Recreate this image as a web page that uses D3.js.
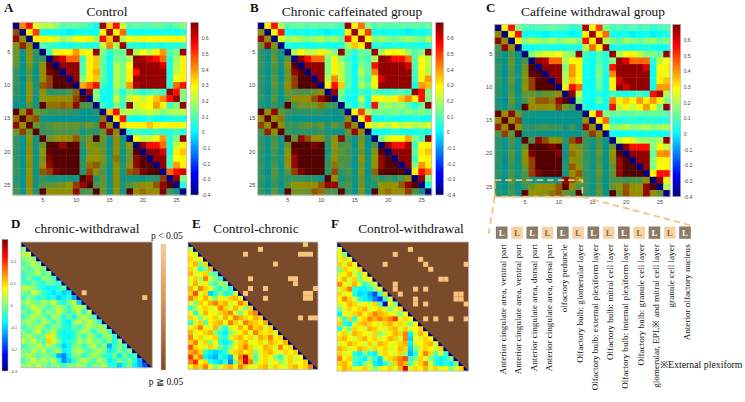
<!DOCTYPE html>
<html>
<head>
<meta charset="utf-8">
<script src="https://cdn.jsdelivr.net/npm/d3@7"></script>
<style>
    body { margin: 0; background: #fff; }
    svg { display: block; }
    text { font-family: "Liberation Serif", "Times New Roman", serif; fill: #111; }
    .tick text { font-family: "Liberation Sans", Arial, sans-serif; fill: #444; }
</style>
</head>
<body>
<svg id="fig" width="745" height="402"></svg>
<script>
/**
 * Data. Regions 1-13 left hemisphere, 14-26 right hemisphere.
 */
const regions = d3.range(1, 27);
const axisTicks = [5, 10, 15, 20, 25];
const corrTicks = [-0.4, -0.3, -0.2, -0.1, 0, 0.1, 0.2, 0.3, 0.4, 0.5, 0.6];
const diffTicks = [-0.3, -0.2, -0.1, 0, 0.1, 0.2];

const panelTitles = ['Control', 'Chronic caffeinated group', 'Caffeine withdrawal group'];
const diffTitles = ['chronic-withdrawal', 'Control-chronic', 'Control-withdrawal'];

// Upper triangles (row i holds columns i+1..26)
const controlUpper = [
    [0.42,0.55,0.25,0.22,0.22,0.18,0.1,0.12,0.12,0.1,0.08,0.02,0.67,0.35,0.55,0.22,0.1,0.12,0.1,0.1,0.12,0.12,0.08,0.12,0.15],
    [0.3,0.5,0.03,0.02,0.03,0.02,0.0,0.02,0.03,0.02,0.03,0.3,0.67,0.3,0.45,0.03,0.02,0.02,0.03,0.02,0.03,0.03,0.02,0.05],
    [0.3,0.3,0.28,0.25,0.18,0.2,0.28,0.28,0.3,0.18,0.55,0.35,0.67,0.22,0.28,0.25,0.3,0.28,0.3,0.28,0.3,0.3,0.28],
    [0.1,0.08,0.05,0.03,0.03,0.05,0.05,0.03,0.05,0.22,0.42,0.2,0.67,0.05,0.05,0.03,0.05,0.05,0.03,0.05,0.05,0.08],
    [0.1,0.3,0.3,0.3,0.4,0.3,0.28,0.67,0.15,0.05,0.12,0.12,0.67,0.2,0.28,0.22,0.3,0.4,0.1,0.15,0.67],
    [0.68,0.6,0.45,0.45,0.08,0.3,0.35,0.12,0.02,0.15,0.12,0.2,0.68,0.66,0.6,0.55,0.45,0.05,0.18,0.3],
    [0.68,0.68,0.68,0.1,0.3,0.35,0.12,0.02,0.2,0.15,0.28,0.68,0.68,0.68,0.67,0.6,0.05,0.2,0.3],
    [0.68,0.68,0.1,0.3,0.38,0.12,0.02,0.2,0.15,0.3,0.55,0.68,0.68,0.68,0.67,0.05,0.22,0.3],
    [0.68,0.15,0.3,0.35,0.12,0.02,0.2,0.15,0.3,0.68,0.68,0.68,0.68,0.67,0.05,0.28,0.3],
    [0.38,0.45,0.55,0.08,0.02,0.2,0.15,0.4,0.65,0.68,0.68,0.68,0.68,0.05,0.45,0.55],
    [0.68,0.15,0.03,0.02,0.15,0.05,0.15,0.1,0.05,0.08,0.1,0.08,0.68,0.55,0.15],
    [0.15,0.03,0.02,0.22,0.1,0.22,0.3,0.22,0.28,0.35,0.42,0.55,0.68,0.15],
    [0.08,0.02,0.15,0.08,0.68,0.22,0.3,0.28,0.4,0.3,0.08,0.15,0.68],
    [0.35,0.55,0.2,0.22,0.2,0.2,0.25,0.2,0.15,0.2,0.2,0.22],
    [0.3,0.55,0.03,0.02,0.03,0.05,0.03,0.02,0.03,0.05,0.03],
    [0.32,0.3,0.3,0.3,0.35,0.3,0.28,0.3,0.3,0.28],
    [0.05,0.08,0.05,0.05,0.08,0.05,0.05,0.08,0.05],
    [0.28,0.22,0.22,0.3,0.4,0.05,0.15,0.68],
    [0.68,0.55,0.55,0.45,0.05,0.22,0.3],
    [0.68,0.68,0.6,0.03,0.3,0.35],
    [0.68,0.68,0.08,0.28,0.3],
    [0.68,0.08,0.4,0.3],
    [0.45,0.55,0.6],
    [0.68,0.15],
    [0.05]
];

const chronicUpper = [
    [0.3,0.55,0.2,0.1,0.12,0.12,0.1,0.12,0.1,0.12,0.1,0.08,0.67,0.3,0.45,0.15,0.1,0.12,0.1,0.1,0.12,0.1,0.12,0.1,0.12],
    [0.3,0.55,0.03,0.02,0.03,0.02,0.03,0.02,0.0,0.02,0.03,0.3,0.67,0.3,0.5,0.03,0.02,0.03,0.02,0.02,0.0,0.03,0.02,0.03],
    [0.25,0.18,0.2,0.18,0.15,0.18,0.2,0.15,0.18,0.12,0.55,0.3,0.67,0.3,0.15,0.18,0.15,0.12,0.15,0.18,0.15,0.12,0.2],
    [0.05,0.03,0.05,0.02,0.03,0.05,0.03,0.02,0.05,0.2,0.35,0.3,0.67,0.05,0.05,0.03,0.05,0.03,0.05,0.05,0.03,0.05],
    [0.2,0.28,0.22,0.22,0.3,0.22,0.15,0.67,0.12,0.05,0.12,0.12,0.67,0.2,0.28,0.3,0.28,0.18,0.1,0.15,0.67],
    [0.68,0.55,0.45,0.45,0.15,0.3,0.15,0.08,0.02,0.12,0.08,0.2,0.68,0.65,0.55,0.55,0.45,0.1,0.28,0.22],
    [0.68,0.68,0.68,0.15,0.3,0.22,0.1,0.02,0.15,0.1,0.55,0.68,0.68,0.68,0.68,0.6,0.1,0.28,0.22],
    [0.68,0.68,0.15,0.3,0.22,0.1,0.03,0.2,0.1,0.42,0.68,0.68,0.68,0.68,0.67,0.08,0.3,0.2],
    [0.68,0.2,0.42,0.22,0.1,0.02,0.15,0.08,0.3,0.6,0.68,0.68,0.68,0.68,0.08,0.3,0.4],
    [0.3,0.55,0.35,0.1,0.02,0.2,0.12,0.3,0.68,0.68,0.68,0.68,0.68,0.03,0.4,0.35],
    [0.68,0.15,0.05,0.03,0.08,0.05,0.1,0.08,0.05,0.08,0.1,0.08,0.68,0.55,0.15],
    [0.12,0.03,0.02,0.2,0.03,0.3,0.28,0.25,0.3,0.35,0.42,0.3,0.55,0.15],
    [0.08,0.02,0.12,0.03,0.55,0.15,0.2,0.15,0.18,0.1,0.05,0.12,0.68],
    [0.3,0.5,0.2,0.12,0.15,0.12,0.15,0.12,0.15,0.12,0.15,0.12],
    [0.3,0.55,0.03,0.02,0.05,0.03,0.02,0.03,0.05,0.03,0.02],
    [0.3,0.22,0.25,0.2,0.28,0.22,0.25,0.2,0.22,0.25],
    [0.03,0.02,0.03,0.05,0.03,0.02,0.03,0.05,0.03],
    [0.15,0.25,0.28,0.28,0.38,0.15,0.08,0.68],
    [0.68,0.55,0.55,0.65,0.08,0.28,0.3],
    [0.68,0.68,0.68,0.12,0.3,0.35],
    [0.68,0.68,0.08,0.28,0.3],
    [0.68,0.15,0.4,0.3],
    [0.3,0.55,0.45],
    [0.68,0.15],
    [0.05]
];

const withdrawalUpper = [
    [0.3,0.55,0.15,0.1,0.08,0.1,0.1,0.12,0.1,0.1,0.05,0.08,0.65,0.3,0.5,0.15,0.08,0.1,0.08,0.1,0.08,0.1,0.05,0.08,0.1],
    [0.3,0.55,0.02,0.03,0.02,0.0,0.02,0.03,0.02,0.0,0.02,0.3,0.67,0.3,0.45,0.03,0.02,0.03,0.0,0.02,0.03,0.0,0.02,0.03],
    [0.3,0.15,0.2,0.18,0.15,0.2,0.15,0.18,0.2,0.15,0.55,0.3,0.67,0.2,0.15,0.12,0.18,0.15,0.12,0.15,0.18,0.12,0.15],
    [0.03,0.02,0.03,0.05,0.03,0.02,0.03,0.05,0.03,0.22,0.45,0.3,0.67,0.03,0.05,0.03,0.02,0.03,0.05,0.03,0.02,0.03],
    [0.15,0.22,0.25,0.25,0.28,0.2,0.15,0.67,0.08,0.03,0.1,0.05,0.67,0.2,0.28,0.3,0.22,0.15,0.15,0.12,0.67],
    [0.68,0.65,0.45,0.45,0.2,0.28,0.3,0.05,0.02,0.1,0.05,0.15,0.68,0.6,0.45,0.45,0.45,0.05,0.22,0.28],
    [0.68,0.68,0.68,0.15,0.4,0.3,0.03,0.02,0.12,0.05,0.55,0.68,0.68,0.68,0.68,0.6,0.03,0.28,0.3],
    [0.68,0.68,0.2,0.4,0.3,0.03,0.02,0.15,0.03,0.42,0.68,0.68,0.68,0.68,0.68,0.03,0.3,0.25],
    [0.68,0.2,0.35,0.28,0.03,0.02,0.12,0.03,0.3,0.6,0.68,0.68,0.68,0.68,0.03,0.3,0.35],
    [0.3,0.55,0.45,0.03,0.02,0.12,0.03,0.3,0.68,0.6,0.68,0.68,0.68,0.03,0.4,0.4],
    [0.68,0.22,0.03,0.02,0.05,0.03,0.08,0.05,0.03,0.05,0.08,0.05,0.55,0.65,0.2],
    [0.15,0.03,0.02,0.12,0.03,0.42,0.3,0.35,0.3,0.4,0.3,0.4,0.3,0.15],
    [0.05,0.02,0.03,0.02,0.55,0.22,0.3,0.22,0.3,0.4,0.28,0.15,0.68],
    [0.3,0.55,0.15,0.12,0.12,0.1,0.12,0.12,0.1,0.12,0.12,0.1],
    [0.3,0.45,0.05,0.03,0.05,0.05,0.03,0.05,0.05,0.03,0.05],
    [0.3,0.15,0.18,0.2,0.15,0.18,0.2,0.15,0.18,0.2],
    [0.03,0.02,0.03,0.03,0.02,0.03,0.03,0.02,0.03],
    [0.22,0.28,0.25,0.18,0.18,0.15,0.2,0.68],
    [0.68,0.55,0.55,0.55,0.15,0.28,0.22],
    [0.68,0.68,0.68,0.12,0.4,0.42],
    [0.68,0.68,0.15,0.3,0.3],
    [0.68,0.15,0.28,0.3],
    [0.3,0.55,0.55],
    [0.68,0.3],
    [0.2]
];

// Lower triangles of the differences (row i holds columns 1..i-1, rows 2..26)
const chronicWithdrawalLower = [
    [0.0],
    [0.03,0.04],
    [0.0,0.02,0.0],
    [-0.03,0.0,0.04,0.0],
    [0.0,-0.03,0.0,0.02,0.0],
    [-0.04,-0.02,0.0,0.03,-0.03,0.0],
    [-0.05,0.0,-0.04,-0.06,0.02,0.0,-0.04],
    [-0.03,-0.05,0.0,-0.04,-0.06,0.0,-0.02,-0.05],
    [0.03,0.04,0.0,-0.04,-0.06,-0.08,-0.07,-0.05,-0.02],
    [0.0,-0.03,0.05,0.02,-0.05,-0.07,-0.09,-0.06,-0.1,-0.08],
    [-0.04,0.0,-0.02,-0.06,-0.04,-0.07,-0.06,-0.1,-0.08,-0.05,-0.12],
    [0.0,0.03,0.0,-0.02,0.03,0.0,0.05,-0.04,-0.06,0.0,0.04,-0.1],
    [-0.03,0.0,0.05,0.02,0.0,-0.04,0.0,0.03,0.0,-0.05,0.02,0.04,0.0],
    [0.0,-0.04,0.0,0.05,-0.03,0.0,0.0,0.04,0.0,-0.05,0.0,0.03,-0.05,0.04],
    [-0.04,0.0,0.04,0.0,0.0,-0.05,0.03,0.0,-0.06,0.0,-0.07,0.0,0.04,0.0,-0.03],
    [0.0,0.03,0.0,-0.03,0.04,0.0,-0.04,0.0,-0.06,-0.08,0.0,0.04,0.0,0.05,0.0,-0.04],
    [-0.04,0.0,0.0,0.03,0.0,-0.05,0.0,0.0,-0.05,-0.07,0.0,-0.04,0.0,0.04,0.0,0.02,0.0],
    [0.0,-0.03,0.0,0.06,-0.04,0.0,0.04,-0.04,-0.07,-0.06,-0.05,0.0,0.03,0.0,-0.05,0.0,0.03,-0.03],
    [0.0,0.03,0.0,-0.03,0.0,0.09,0.04,-0.04,-0.07,-0.08,-0.05,0.0,-0.04,0.03,0.0,-0.06,0.0,0.02,-0.04],
    [0.03,0.0,0.04,0.0,-0.04,0.1,0.05,0.0,-0.07,-0.06,-0.04,0.03,0.0,0.04,0.0,0.0,-0.04,0.0,-0.06,0.0],
    [-0.04,0.0,0.0,0.04,0.0,0.03,0.0,-0.05,-0.1,-0.07,0.0,0.0,-0.05,0.0,0.04,-0.03,0.0,-0.12,-0.05,0.0,-0.03],
    [0.0,-0.03,0.04,0.0,0.03,-0.04,0.0,0.03,-0.08,-0.06,0.0,0.04,0.0,-0.04,0.0,0.03,0.0,-0.08,-0.05,0.0,-0.04,0.0],
    [0.0,0.04,0.0,-0.03,0.0,0.0,-0.04,-0.12,-0.15,-0.08,0.0,0.0,-0.05,0.0,0.03,0.0,-0.04,-0.06,0.0,-0.08,0.0,-0.05,-0.03],
    [-0.03,0.0,0.05,0.0,0.03,0.0,0.03,-0.05,-0.14,-0.1,-0.05,0.0,0.04,0.0,-0.04,0.03,0.0,-0.08,-0.05,0.0,-0.04,0.0,-0.06,-0.12],
    [0.0,0.03,0.0,0.04,0.0,-0.03,0.0,0.0,-0.05,0.0,0.0,0.03,0.0,-0.04,0.0,0.0,0.03,-0.05,-0.06,-0.1,-0.05,0.0,-0.08,-0.12,-0.18]
];

const controlChronicLower = [
    [0.03],
    [0.08,0.05],
    [0.1,0.05,0.08],
    [0.08,0.12,0.0,0.1],
    [0.1,0.05,-0.05,0.0,0.12],
    [0.12,0.05,0.08,0.1,0.0,-0.03],
    [0.08,0.1,0.02,0.15,0.05,0.0,-0.05],
    [0.05,0.12,0.05,0.08,0.0,-0.04,0.03,0.0],
    [0.12,0.08,0.15,0.1,0.08,-0.02,-0.05,0.0,-0.05],
    [0.1,0.18,0.05,0.1,-0.1,-0.05,0.0,-0.06,-0.04,0.05],
    [0.15,0.1,0.08,0.12,0.05,0.0,0.08,0.05,0.1,0.12,0.06],
    [0.05,0.0,0.1,0.08,0.12,0.15,0.1,0.12,0.05,0.08,0.15,0.1],
    [-0.05,0.03,0.08,0.1,0.05,0.08,0.15,0.1,0.05,0.12,0.08,0.0,0.1],
    [0.08,-0.05,0.05,0.12,0.08,0.05,0.1,0.12,0.15,0.05,0.0,0.08,0.12,0.15],
    [0.1,0.08,0.0,0.05,0.08,0.1,0.05,0.12,0.08,0.15,0.12,0.1,0.08,0.12,0.1],
    [-0.05,0.05,0.1,-0.03,0.08,0.1,0.12,0.08,0.15,0.1,0.05,0.15,0.12,0.1,0.08,0.12],
    [0.08,0.1,0.15,0.08,0.05,0.12,0.0,-0.05,0.05,0.08,0.12,0.08,0.15,0.1,0.12,0.05,0.1],
    [0.12,0.05,0.08,0.1,0.12,0.0,-0.05,-0.08,0.0,0.05,0.08,0.12,0.05,0.15,0.1,0.08,0.1,0.05],
    [0.15,0.08,0.1,0.05,0.08,0.1,-0.03,-0.06,0.05,0.1,0.12,0.08,0.1,0.05,0.12,0.1,0.15,0.08,0.1],
    [0.1,0.15,0.05,0.1,0.0,0.08,-0.05,-0.08,-0.04,0.05,0.1,0.12,0.05,0.08,0.1,0.05,0.12,0.1,0.08,0.12],
    [0.18,0.1,0.08,0.05,0.1,0.05,0.0,-0.05,0.0,0.08,0.1,0.15,0.1,0.05,0.08,0.12,0.1,0.05,0.15,0.08,0.1],
    [0.12,0.15,0.1,-0.05,-0.08,-0.1,-0.08,-0.05,0.05,0.1,0.12,0.08,0.1,0.0,0.05,0.1,0.12,0.08,0.05,0.1,0.08,0.1],
    [0.2,0.1,0.15,-0.08,-0.1,-0.12,-0.05,-0.08,-0.12,0.05,0.15,0.25,0.1,-0.03,0.05,0.1,0.08,0.0,-0.05,0.05,0.1,0.05,0.08],
    [0.15,0.2,0.08,0.1,-0.05,-0.08,-0.1,-0.05,-0.15,0.0,0.12,0.25,0.15,0.0,0.08,0.1,0.05,0.08,0.0,0.05,0.1,0.05,0.08,0.1],
    [0.08,0.12,0.1,0.15,0.08,0.0,0.05,0.1,0.12,0.08,0.15,0.1,0.05,0.08,0.1,0.12,0.05,0.1,0.08,0.05,0.1,0.12,0.08,0.1,0.15]
];

const controlWithdrawalLower = [
    [0.05],
    [0.08,0.0],
    [0.05,0.1,0.05],
    [0.1,0.05,0.12,0.08],
    [0.0,0.1,0.08,0.05,0.1],
    [0.05,0.08,0.12,0.05,0.0,0.08],
    [0.08,0.12,0.05,0.1,0.0,0.05,0.08],
    [0.15,0.08,0.05,0.12,0.05,-0.05,0.0,0.05],
    [0.05,0.1,0.15,-0.05,-0.08,-0.08,-0.05,0.0,0.05],
    [0.1,0.05,0.08,-0.06,-0.1,-0.08,-0.12,-0.18,-0.05,0.1],
    [0.08,0.15,0.1,0.05,-0.05,-0.08,-0.1,-0.15,-0.2,-0.05,0.05],
    [0.05,0.08,0.12,0.1,0.05,0.08,0.05,0.1,-0.03,-0.25,0.08,0.0],
    [0.0,0.05,0.1,0.08,0.1,0.12,0.05,0.08,0.1,0.05,0.0,0.05,0.1],
    [-0.08,0.08,0.05,0.1,0.12,0.08,0.1,0.15,0.12,0.1,0.08,0.05,0.0,0.08],
    [0.05,-0.05,0.1,-0.06,0.08,0.1,0.15,0.12,0.15,0.12,0.15,0.2,0.05,0.1,0.08],
    [0.1,-0.05,-0.08,0.05,0.1,0.12,0.1,0.08,0.05,0.1,0.12,0.08,0.1,0.05,0.0,0.08],
    [-0.06,0.05,0.0,0.1,0.08,0.05,0.12,0.1,0.08,0.05,0.1,0.12,0.05,0.1,0.05,0.08,0.1],
    [0.08,0.1,0.05,0.12,0.1,0.08,0.05,0.1,0.0,0.05,0.08,0.12,0.1,0.15,-0.08,0.05,0.12,0.08],
    [0.1,0.12,0.08,0.05,0.1,0.12,0.08,0.1,0.05,0.08,0.12,0.1,0.05,0.15,-0.1,0.08,0.05,0.1,0.08],
    [0.05,0.08,0.12,0.1,0.08,0.05,0.1,0.05,0.12,0.1,0.08,0.05,0.1,0.12,-0.08,0.05,0.08,0.1,0.12,0.05],
    [0.12,0.1,0.05,0.08,0.12,0.1,0.05,0.1,0.08,0.1,0.05,0.08,0.12,0.1,-0.1,0.0,0.05,0.1,0.08,0.05,0.1],
    [0.1,0.05,0.08,-0.05,-0.08,0.0,-0.06,-0.08,0.05,0.1,0.08,0.05,0.1,0.0,-0.12,-0.05,0.08,0.15,0.1,-0.03,0.05,-0.05],
    [0.15,0.08,0.1,-0.03,-0.05,-0.08,0.0,-0.05,-0.1,0.05,0.1,0.12,0.15,0.18,-0.05,0.0,0.1,0.05,0.0,-0.05,-0.08,-0.05,0.0],
    [0.1,0.12,0.08,-0.05,-0.08,0.0,0.05,-0.08,-0.1,-0.05,0.0,0.1,0.15,0.12,-0.03,0.05,0.1,0.15,0.05,-0.05,-0.08,-0.05,-0.08,0.0],
    [0.08,0.12,0.1,0.05,0.08,0.1,0.05,0.0,0.05,0.08,0.1,0.05,0.12,0.25,0.05,0.1,0.08,0.12,0.05,0.1,0.05,0.08,0.0,0.05,0.1]
];

// Significant pairs (p < 0.05) as [row, column]
const chronicWithdrawalSig = [[11, 13], [12, 25]];
const controlChronicSig = [[1, 24], [2, 15], [3, 12], [3, 23], [3, 24], [3, 25], [5, 18], [8, 13], [8, 21], [8, 22],
    [9, 22], [10, 13], [10, 16], [10, 26], [11, 12], [11, 24], [11, 25], [12, 16], [12, 24], [12, 25], [16, 23], [16, 25], [16, 26]];
const controlWithdrawalSig = [[2, 15], [3, 12], [4, 17], [5, 10], [5, 18], [5, 26], [6, 19], [8, 21], [8, 22], [9, 12],
    [10, 12], [10, 16], [10, 18], [11, 13], [11, 24], [11, 25], [12, 16], [12, 24], [12, 25], [13, 16], [13, 18], [13, 26],
    [16, 18], [16, 20], [16, 23], [16, 26]];

// Regions of the zoomed block (left hemisphere)
const regionNames = [
    'Anterior cingulate area, ventral part',
    'Anterior cingulate area, ventral part',
    'Anterior cingulate area, dorsal part',
    'Anterior cingulate area, dorsal part',
    'olfactory peduncle',
    'Olfactory bulb: glomerular layer',
    'Olfactory bulb: external plexiform layer',
    'Olfactory bulb: mitral cell layer',
    'Olfactory bulb: internal plexiform layer',
    'Olfactory bulb: granule cell layer',
    'glomerular, EPL※ and mitral cell layer',
    'granule cell layer',
    'Anterior olfactory nucleus'
];

/**
 * Visual configs.
 */
const corrBoxes = [
    { x0: 12.7, x1: 186.5, y0: 22.3, y1: 195, cb: 190.7, title: [107, 16], letter: [4, 12], name: 'A' },
    { x0: 257.7, x1: 431.7, y0: 22.3, y1: 195, cb: 435.7, title: [352, 15.5], letter: [250, 12], name: 'B' },
    { x0: 494.7, x1: 670, y0: 24.3, y1: 196.7, cb: 672.7, title: [593, 15.5], letter: [486, 12], name: 'C' }
];
const diffBoxes = [
    { x0: 21, x1: 152.3, y0: 242, y1: 367.7, title: [87, 232.5], letter: [11, 228], name: 'D' },
    { x0: 188, x1: 318, y0: 242, y1: 369.3, title: [256, 232.5], letter: [192, 228], name: 'E' },
    { x0: 337, x1: 468.7, y0: 242, y1: 371, title: [411, 232.5], letter: [331, 228], name: 'F' }
];
const labelLength = 130,   // drawn length of the first region name
    noteLength = 83;       // drawn length of the footnote
const diagColor = '#00007f',
    brown = '#7a4b2b',
    peach = '#f8c47d',
    frameColor = '#bdbdbd';

/**
 * MATLAB jet colormap.
 */
function jet(t) {
    t = Math.max(0, Math.min(1, t));
    const f = v => Math.max(0, Math.min(1, v));
    return d3.rgb(255 * f(1.5 - Math.abs(4 * t - 3)),
        255 * f(1.5 - Math.abs(4 * t - 2)),
        255 * f(1.5 - Math.abs(4 * t - 1)));
}

// Lower triangle of the correlation maps is shown dimmed
function dim(c, k) {
    return d3.rgb(c.r * k, c.g * k, c.b * k);
}

const svg = d3.select('#fig');
const defs = svg.append('defs');

/**
 * Vertical gradient for colorbars.
 */
function gradient(id, colorAt) {
    const g = defs.append('linearGradient').attr('id', id)
        .attr('x1', 0).attr('y1', 1).attr('x2', 0).attr('y2', 0);
    d3.range(0, 1.0001, 1 / 64).forEach(t => {
        g.append('stop').attr('offset', t).attr('stop-color', colorAt(t));
    });
}
gradient('jetGrad', jet);
gradient('pGrad', d3.scaleLinear().domain([0, 0.6, 1]).range([brown, '#e39a5c', '#facb88']));

/**
 * Full correlation matrix from its upper triangle.
 */
function valueAt(upper, i, j) {
    if (i === j) return null;
    return i < j ? upper[i - 1][j - i - 1] : upper[j - 1][i - j - 1];
}

function tickFormat(d) {
    return d === 0 ? '0' : d.toFixed(1).replace('\u2212', '-');
}

// Scales a text selection's font so its first node spans the given length
function fitLength(sel, size, length) {
    const measured = sel.node().getComputedTextLength();
    if (measured > 0) sel.style('font-size', (size * length / measured) + 'px');
}

/**
 * Draws one correlation heatmap with its colorbar.
 */
function corrMap(upper, box) {
    const g = svg.append('g').attr('class', 'corr');
    const x = d3.scaleBand().domain(regions).range([box.x0, box.x1]),
        y = d3.scaleBand().domain(regions).range([box.y0, box.y1]),
        color = d3.scaleSequential(jet).domain([-0.4, 0.7]);

    const cells = [];
    regions.forEach(i => regions.forEach(j => cells.push({ i, j, v: valueAt(upper, i, j) })));

    g.selectAll('rect.cell').data(cells).enter().append('rect')
        .attr('class', 'cell')
        .attr('x', d => x(d.j))
        .attr('y', d => y(d.i))
        .attr('width', x.bandwidth() + 0.4)
        .attr('height', y.bandwidth() + 0.4)
        .attr('fill', d => {
            if (d.v === null) return diagColor;
            const c = d3.rgb(color(d.v));
            return d.i < d.j ? c : dim(c, 0.58);
        });

    g.append('rect')
        .attr('x', box.x0).attr('y', box.y0)
        .attr('width', box.x1 - box.x0).attr('height', box.y1 - box.y0)
        .attr('fill', 'none').attr('stroke', frameColor).attr('stroke-width', 0.8);

    // Axes
    const yAxis = d3.axisLeft(y).tickValues(axisTicks).tickSize(0).tickPadding(2.5);
    const xAxis = d3.axisBottom(x).tickValues(axisTicks).tickSize(0).tickPadding(3);
    g.append('g').attr('transform', 'translate(' + box.x0 + ',0)').call(yAxis)
        .call(s => s.select('.domain').remove())
        .selectAll('text').style('font-size', '5.5px');
    g.append('g').attr('transform', 'translate(0,' + box.y1 + ')').call(xAxis)
        .call(s => s.select('.domain').remove())
        .selectAll('text').style('font-size', '5.5px');

    // Colorbar
    const cbW = 8;
    const cbScale = d3.scaleLinear().domain([-0.4, 0.7]).range([box.y1, box.y0]);
    g.append('rect')
        .attr('x', box.cb).attr('y', box.y0)
        .attr('width', cbW).attr('height', box.y1 - box.y0)
        .attr('fill', 'url(#jetGrad)')
        .attr('stroke', frameColor).attr('stroke-width', 0.6);
    g.append('g').attr('transform', 'translate(' + (box.cb + cbW) + ',0)')
        .call(d3.axisRight(cbScale).tickValues(corrTicks).tickFormat(tickFormat).tickSize(0).tickPadding(3))
        .call(s => s.select('.domain').remove())
        .selectAll('text').style('font-size', '5px');

    // Title and panel letter
    g.append('text').attr('x', box.title[0]).attr('y', box.title[1])
        .attr('text-anchor', 'middle').style('font-size', '13.4px')
        .text(panelTitles[corrBoxes.indexOf(box)]);
    g.append('text').attr('x', box.letter[0]).attr('y', box.letter[1])
        .style('font-size', '13px').style('font-weight', 'bold')
        .text(box.name);

    return { x, y };
}

/**
 * Draws one difference map: values below the diagonal, significance above it.
 */
function diffMap(lower, sig, box, title) {
    const g = svg.append('g').attr('class', 'diff');
    const x = d3.scaleBand().domain(regions).range([box.x0, box.x1]),
        y = d3.scaleBand().domain(regions).range([box.y0, box.y1]),
        color = d3.scaleSequential(jet).domain([-0.3, 0.3]);

    const cells = [];
    lower.forEach((row, k) => row.forEach((v, j) => cells.push({ i: k + 2, j: j + 1, v })));

    g.selectAll('rect.cell').data(cells).enter().append('rect')
        .attr('class', 'cell')
        .attr('x', d => x(d.j)).attr('y', d => y(d.i))
        .attr('width', x.bandwidth() + 0.4).attr('height', y.bandwidth() + 0.4)
        .attr('fill', d => color(d.v));

    g.selectAll('rect.diag').data(regions).enter().append('rect')
        .attr('class', 'diag')
        .attr('x', d => x(d)).attr('y', d => y(d))
        .attr('width', x.bandwidth()).attr('height', y.bandwidth())
        .attr('fill', diagColor);

    // p >= 0.05 area above the diagonal
    const [xa, xb] = x.range(), [ya, yb] = y.range();
    g.append('path')
        .attr('d', 'M' + xa + ',' + ya + 'L' + xb + ',' + ya + 'L' + xb + ',' + yb + 'Z')
        .attr('fill', brown);

    g.selectAll('rect.sig').data(sig).enter().append('rect')
        .attr('class', 'sig')
        .attr('x', d => x(d[1])).attr('y', d => y(d[0]))
        .attr('width', x.bandwidth()).attr('height', y.bandwidth())
        .attr('fill', peach);

    g.append('rect')
        .attr('x', xa).attr('y', ya).attr('width', xb - xa).attr('height', yb - ya)
        .attr('fill', 'none').attr('stroke', frameColor).attr('stroke-width', 0.8);

    g.append('text').attr('x', box.title[0]).attr('y', box.title[1])
        .attr('text-anchor', 'middle').style('font-size', '13.4px')
        .text(title);
    g.append('text').attr('x', box.letter[0]).attr('y', box.letter[1])
        .style('font-size', '13px').style('font-weight', 'bold')
        .text(box.name);
}

/**
 * Draw.
 */
corrMap(controlUpper, corrBoxes[0]);
corrMap(chronicUpper, corrBoxes[1]);
const cScales = corrMap(withdrawalUpper, corrBoxes[2]);

diffMap(chronicWithdrawalLower, chronicWithdrawalSig, diffBoxes[0], diffTitles[0]);
diffMap(controlChronicLower, controlChronicSig, diffBoxes[1], diffTitles[1]);
diffMap(controlWithdrawalLower, controlWithdrawalSig, diffBoxes[2], diffTitles[2]);

// Difference colorbar (left of D)
const diffCb = d3.scaleLinear().domain([-0.3, 0.3]).range([371, 239.3]);
svg.append('rect')
    .attr('x', 2).attr('y', diffCb.range()[1])
    .attr('width', 6).attr('height', diffCb.range()[0] - diffCb.range()[1])
    .attr('fill', 'url(#jetGrad)').attr('stroke', frameColor).attr('stroke-width', 0.5);
svg.append('g').attr('transform', 'translate(8,0)')
    .call(d3.axisRight(diffCb).tickValues(diffTicks).tickFormat(tickFormat).tickSize(0).tickPadding(2.5))
    .call(s => s.select('.domain').remove())
    .selectAll('text').style('font-size', '3.8px');

// Significance colorbar
svg.append('rect')
    .attr('x', 161).attr('y', 244.3).attr('width', 4.8).attr('height', 125.7)
    .attr('fill', 'url(#pGrad)').attr('stroke', frameColor).attr('stroke-width', 0.4);
svg.append('text').attr('x', 167).attr('y', 238.5).attr('text-anchor', 'middle')
    .style('font-size', '9.6px').text('p < 0.05');
svg.append('text').attr('x', 166).attr('y', 384.5).attr('text-anchor', 'middle')
    .style('font-size', '9.6px').text('p \u2267 0.05');

/**
 * Zoomed region list under panel C.
 */
const boxX = d3.scalePoint().domain(d3.range(regionNames.length)).range([501.7, 685]);
const boxTop = 226.5, boxH = 12.3, boxW = 11.6;
const zoomY0 = cScales.y(24) + cScales.y.bandwidth() * 0.5,
    zoomY1 = cScales.y(26) + cScales.y.bandwidth(),
    zoomX0 = cScales.x(1),
    zoomX1 = cScales.x(13) + cScales.x.bandwidth();

const zoomG = svg.append('g').attr('class', 'zoom')
    .attr('fill', 'none').attr('stroke', '#f5c078').attr('stroke-width', 1.7)
    .attr('stroke-dasharray', '6.5,4');
zoomG.append('rect')
    .attr('x', zoomX0).attr('y', zoomY0)
    .attr('width', zoomX1 - zoomX0).attr('height', zoomY1 - zoomY0);
zoomG.append('line')
    .attr('x1', zoomX0).attr('y1', zoomY1)
    .attr('x2', boxX(0) - 13).attr('y2', boxTop + 7);
zoomG.append('line')
    .attr('x1', zoomX1).attr('y1', zoomY1)
    .attr('x2', boxX(regionNames.length - 1) + 10).attr('y2', boxTop);

const items = svg.append('g').selectAll('g.region').data(regionNames).enter()
    .append('g').attr('class', 'region')
    .attr('transform', (d, i) => 'translate(' + boxX(i) + ',0)');
items.append('rect')
    .attr('x', -boxW / 2).attr('y', boxTop)
    .attr('width', boxW).attr('height', boxH)
    .attr('fill', (d, i) => i % 2 ? '#f7d3a3' : '#8c7b65');
items.append('text')
    .attr('y', boxTop + boxH / 2).attr('dy', '0.36em')
    .attr('text-anchor', 'middle')
    .style('font-size', '9px').style('font-weight', 'bold')
    .style('fill', (d, i) => i % 2 ? '#8a6a4a' : '#ffffff')
    .text('L');
const names = items.append('text')
    .attr('transform', 'translate(1.5,' + (boxTop + boxH + 5.5) + ') rotate(-90)')
    .attr('dy', '0.33em')
    .attr('text-anchor', 'end')
    .style('font-size', '9.2px')
    .text(String);
fitLength(names, 9.2, labelLength);

const note = svg.append('text').attr('x', 660).attr('y', 368)
    .style('font-size', '9.2px').text('※External plexiform');
fitLength(note, 9.2, noteLength);
</script>
</body>
</html>
